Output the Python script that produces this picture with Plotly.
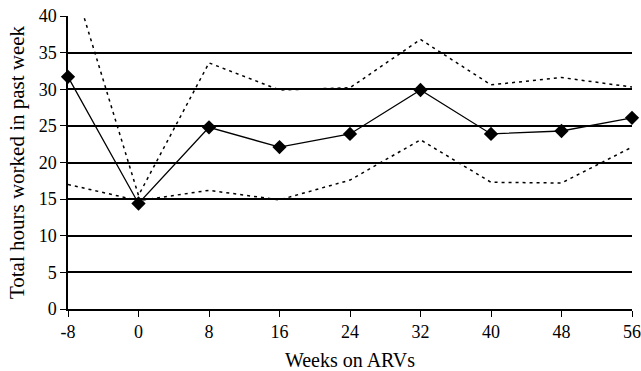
import plotly.graph_objects as go

weeks = [-8, 0, 8, 16, 24, 32, 40, 48, 56]
week_labels = ["-8", "0", "8", "16", "24", "32", "40", "48", "56"]
mean_hours = [31.7, 14.4, 24.8, 22.1, 23.9, 29.9, 23.9, 24.3, 26.1]
upper_ci = [47.0, 15.5, 33.6, 29.9, 30.2, 36.8, 30.6, 31.6, 30.3]
lower_ci = [17.0, 14.8, 16.2, 14.9, 17.6, 23.1, 17.3, 17.2, 22.1]
y_ticks = [0, 5, 10, 15, 20, 25, 30, 35, 40]

fig = go.Figure()
fig.add_trace(go.Scatter(x=weeks, y=upper_ci, mode="lines",
                         line=dict(color="black", width=1.5, dash="3px,4px"),
                         showlegend=False))
fig.add_trace(go.Scatter(x=weeks, y=lower_ci, mode="lines",
                         line=dict(color="black", width=1.5, dash="3px,4px"),
                         showlegend=False))
fig.add_trace(go.Scatter(x=weeks, y=mean_hours, mode="lines+markers",
                         line=dict(color="black", width=1.3),
                         marker=dict(symbol="diamond", size=11, color="black"),
                         showlegend=False, cliponaxis=False))

font = dict(family="Liberation Serif, Times New Roman, serif", color="black")
fig.update_layout(
    width=641, height=371,
    margin=dict(l=68, r=9, t=16, b=62),
    paper_bgcolor="white", plot_bgcolor="white",
    font=dict(**font, size=18),
    xaxis=dict(range=[-8, 56], tickvals=weeks, ticktext=week_labels,
               ticks="outside", ticklen=6, automargin=False,
               tickcolor="black", showgrid=False, zeroline=False,
               showline=True, linecolor="black", linewidth=1.5,
               title=dict(text="Weeks on ARVs", font=dict(size=20), standoff=16),
               tickfont=dict(size=18)),
    yaxis=dict(range=[0, 40], tickvals=y_ticks, ticks="outside", ticklen=6,
               automargin=False,
               tickcolor="black", showgrid=True, gridcolor="black", gridwidth=1.5,
               zeroline=False, showline=True, linecolor="black", linewidth=1.5,
               title=dict(text="Total hours worked in past week", font=dict(size=21),
                          standoff=8),
               tickfont=dict(size=18)),
)
fig.write_html("out.html", config={"displayModeBar": False},
               post_script="document.body.style.margin='0';")
